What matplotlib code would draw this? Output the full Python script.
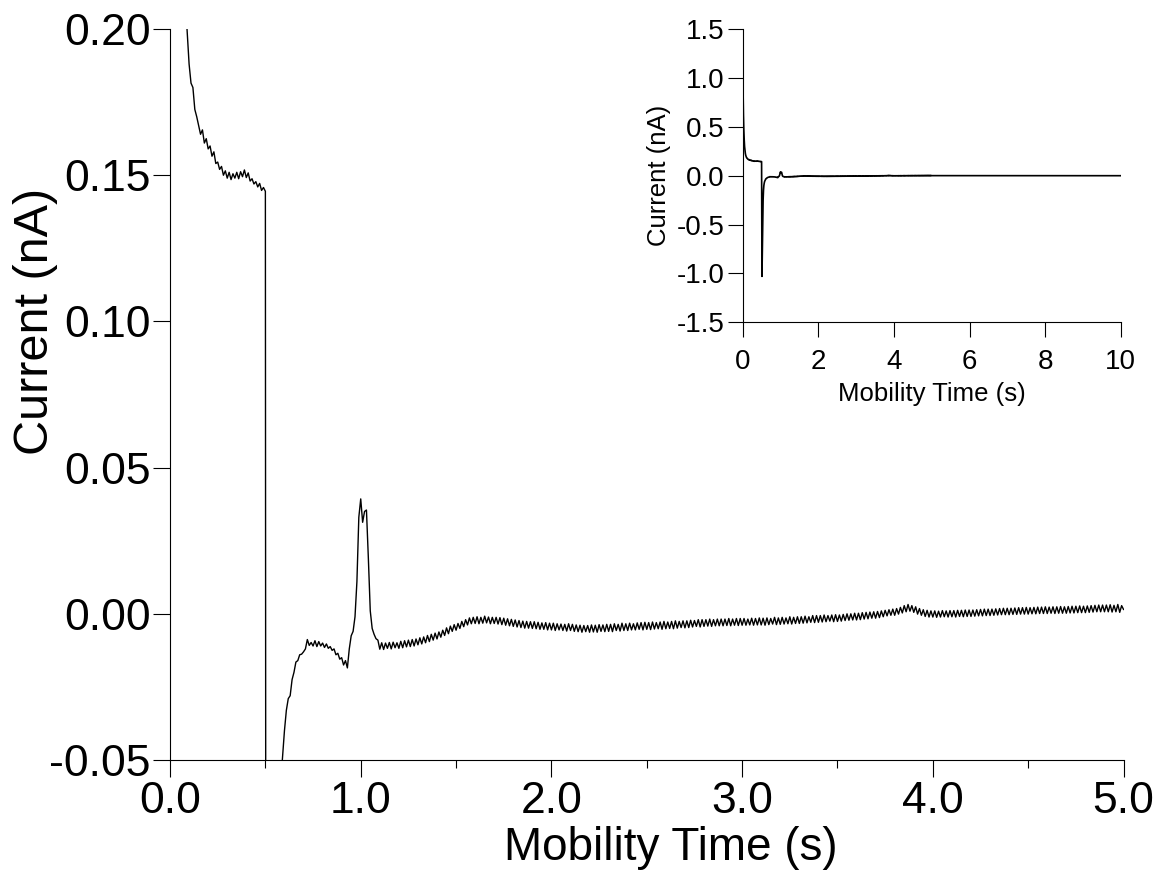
import numpy as np
import matplotlib.pyplot as plt
from matplotlib.ticker import MultipleLocator, FormatStrFormatter

plt.rcParams['font.family'] = ['Liberation Sans', 'DejaVu Sans']
plt.rcParams['axes.unicode_minus'] = False

# trace sampled every 10 ms from t = 0 s, current in units of 1e-4 nA
# (one row per 0.1 s)
dt = 0.01
current_raw = [
    11200, 8500, 6200, 4700, 3700, 3000, 2600, 2300, 2100, 1990,
    1880, 1815, 1800, 1725, 1700, 1670, 1640, 1655, 1610, 1625,
    1590, 1600, 1565, 1580, 1540, 1545, 1520, 1530, 1500, 1515,
    1490, 1510, 1485, 1505, 1490, 1510, 1488, 1512, 1495, 1518,
    1492, 1508, 1480, 1488, 1470, 1478, 1460, 1472, 1448, 1458,
    1445, -10300, -7500, -4500, -2500, -1500, -1000, -750, -580, -490,
    -400, -330, -290, -280, -225, -200, -165, -160, -140, -138,
    -130, -120, -88, -108, -98, -110, -92, -112, -95, -110,
    -100, -115, -103, -118, -112, -125, -120, -140, -135, -155,
    -150, -175, -160, -185, -120, -75, -60, -10, 110, 330,
    393, 313, 350, 355, 190, 10, -50, -70, -85, -90,
    -121, -99, -122, -100, -118, -98, -120, -97, -116, -99,
    -118, -94, -116, -92, -113, -90, -112, -88, -110, -86,
    -106, -82, -103, -79, -99, -74, -95, -70, -90, -66,
    -86, -62, -80, -56, -74, -48, -68, -42, -60, -37,
    -56, -33, -50, -26, -44, -20, -38, -14, -34, -12,
    -33, -10, -34, -12, -32, -8, -31, -11, -34, -12,
    -33, -12, -35, -13, -37, -15, -39, -17, -41, -19,
    -43, -21, -45, -23, -47, -25, -49, -26, -49, -27,
    -50, -27, -51, -29, -53, -31, -53, -30, -55, -32,
    -55, -32, -57, -34, -55, -35, -57, -36, -59, -34,
    -57, -36, -60, -38, -61, -39, -63, -40, -61, -40,
    -63, -38, -62, -39, -63, -37, -60, -38, -61, -36,
    -60, -36, -61, -34, -57, -36, -59, -32, -57, -34,
    -57, -32, -55, -34, -55, -31, -53, -30, -55, -29,
    -53, -30, -54, -28, -52, -30, -51, -28, -53, -26,
    -51, -28, -50, -26, -51, -24, -49, -26, -47, -24,
    -48, -24, -47, -22, -45, -23, -43, -20, -45, -20,
    -43, -20, -42, -18, -43, -20, -41, -18, -41, -18,
    -41, -18, -40, -16, -41, -18, -39, -16, -40, -16,
    -39, -16, -39, -18, -38, -15, -39, -16, -38, -14,
    -38, -15, -39, -14, -37, -16, -35, -12, -37, -14,
    -36, -12, -35, -14, -34, -10, -35, -12, -33, -10,
    -33, -10, -32, -8, -31, -10, -29, -6, -30, -6,
    -29, -6, -28, -4, -27, -6, -25, -4, -27, -3,
    -26, -4, -25, -2, -23, 0, -22, 0, -21, 2,
    -21, 2, -20, 4, -18, 5, -17, 6, -15, 7,
    -15, 8, -13, 10, -10, 12, -7, 14, -5, 16,
    -5, 18, -1, 22, 3, 28, 7, 32, 9, 28,
    5, 24, -1, 18, -5, 14, -9, 12, -11, 10,
    -11, 10, -12, 9, -11, 11, -10, 10, -11, 11,
    -10, 11, -11, 12, -9, 12, -10, 13, -9, 13,
    -9, 13, -8, 14, -7, 15, -7, 16, -6, 16,
    -6, 16, -5, 17, -4, 18, -3, 19, -3, 19,
    -3, 19, -2, 20, -2, 21, -1, 21, -1, 22,
    -1, 21, 0, 22, 0, 23, 1, 23, 1, 24,
    1, 23, 2, 24, 1, 24, 2, 25, 2, 24,
    2, 25, 3, 26, 3, 26, 4, 27, 4, 26,
    4, 27, 5, 28, 6, 29, 7, 30, 7, 30,
    7, 30, 7, 31, 6, 29, 7, 32, 5, 28,
    15,
]

# rest of the run, only seen in the inset (nA)
tail_time = [5.5, 6.0, 6.5, 7.0, 7.5, 8.0, 8.5, 9.0, 9.5, 10.0]
tail_current = [0.0017, 0.0015, 0.0013, 0.0012, 0.0010,
                0.0010, 0.0009, 0.0008, 0.0008, 0.0008]

current = np.array(current_raw) * 1e-4
time = np.arange(len(current)) * dt

time_all = np.concatenate([time, tail_time])
current_all = np.concatenate([current, tail_current])

fig = plt.figure(figsize=(11.59, 8.82), dpi=100)

# main plot
ax = fig.add_axes([0.1467, 0.1383, 0.8227, 0.8288])
ax.plot(time, current, color='black', linewidth=1.0)
ax.set_xlim(0, 5)
ax.set_ylim(-0.05, 0.20)
ax.xaxis.set_major_locator(MultipleLocator(1.0))
ax.xaxis.set_minor_locator(MultipleLocator(0.5))
ax.yaxis.set_major_locator(MultipleLocator(0.05))
ax.xaxis.set_major_formatter(FormatStrFormatter('%.1f'))
ax.yaxis.set_major_formatter(FormatStrFormatter('%.2f'))
for s in ['top', 'right']:
    ax.spines[s].set_visible(False)
for s in ['left', 'bottom']:
    ax.spines[s].set_linewidth(0.8)
ax.tick_params(which='major', direction='out', length=12, width=0.8,
               labelsize=32)
ax.tick_params(axis='x', which='major', pad=3)
ax.tick_params(axis='y', which='major', pad=2)
ax.tick_params(which='minor', direction='out', length=6, width=0.8)
ax.set_xlabel('Mobility Time (s)', fontsize=33)
ax.set_ylabel('Current (nA)', fontsize=35)
ax.xaxis.set_label_coords(0.525, -0.09)
ax.yaxis.set_label_coords(-0.118, 0.6)

# inset with the full run
ins = fig.add_axes([0.6408, 0.6346, 0.3262, 0.3322])
ins.plot(time_all, current_all, color='black', linewidth=1.2)
ins.set_xlim(0, 10)
ins.set_ylim(-1.5, 1.5)
ins.xaxis.set_major_locator(MultipleLocator(2))
ins.yaxis.set_major_locator(MultipleLocator(0.5))
ins.xaxis.set_major_formatter(FormatStrFormatter('%d'))
ins.yaxis.set_major_formatter(FormatStrFormatter('%.1f'))
for s in ['top', 'right']:
    ins.spines[s].set_visible(False)
for s in ['left', 'bottom']:
    ins.spines[s].set_linewidth(0.8)
ins.tick_params(direction='out', length=11, width=0.8, labelsize=20)
ins.tick_params(axis='x', pad=8)
ins.tick_params(axis='y', pad=2)
ins.set_xlabel('Mobility Time (s)', fontsize=18.5, labelpad=5)
ins.set_ylabel('Current (nA)', fontsize=18.5, labelpad=4)

fig.savefig('out.png', dpi=100)
